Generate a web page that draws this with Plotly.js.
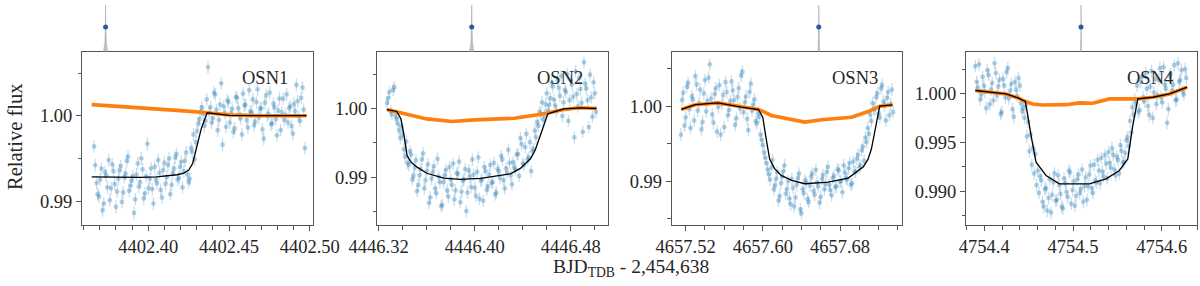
<!DOCTYPE html>
<html>
<head>
<meta charset="utf-8">
<script src="https://cdn.plot.ly/plotly-3.0.1.min.js"></script>
<style>html,body{margin:0;padding:0;background:#fff;}#chart{width:1200px;height:286px;}</style>
</head>
<body>
<div id="chart"></div>
<script>
// ---------------- DATA ----------------
const panelNames = ["OSN1", "OSN2", "OSN3", "OSN4"];
const xTitle = "BJD<sub>TDB</sub> - 2,454,638";
const yTitle = "Relative flux";

// OSN1 observations (two interleaved reads of the cloud)
const obs1X = [4402.3665,4402.3680,4402.3695,4402.3710,4402.3725,4402.3740,4402.3755,4402.3770,4402.3785,4402.3800,4402.3815,4402.3830,4402.3845,4402.3860,4402.3875,4402.3890,4402.3905,4402.3920,4402.3935,4402.3950,4402.3965,4402.3980,4402.3995,4402.4010,4402.4025,4402.4040,4402.4055,4402.4070,4402.4085,4402.4100,4402.4115,4402.4130,4402.4145,4402.4160,4402.4175,4402.4190,4402.4205,4402.4220,4402.4235,4402.4250,4402.4265,4402.4280,4402.4295,4402.4310,4402.4325,4402.4340,4402.4355,4402.4370,4402.4385,4402.4400,4402.4415,4402.4430,4402.4445,4402.4460,4402.4475,4402.4490,4402.4505,4402.4520,4402.4535,4402.4550,4402.4565,4402.4580,4402.4595,4402.4610,4402.4625,4402.4640,4402.4655,4402.4670,4402.4685,4402.4700,4402.4715,4402.4730,4402.4745,4402.4760,4402.4775,4402.4790,4402.4805,4402.4820,4402.4835,4402.4850,4402.4865,4402.4880,4402.4895,4402.4910,4402.4925,4402.4940,4402.4955,4402.4970];
const obs1Y = [0.9964,0.9921,0.9905,0.9938,0.9897,0.9930,0.9948,0.9915,0.9935,0.9893,0.9926,0.9941,0.9910,0.9932,0.9952,0.9918,0.9929,0.9902,0.9944,0.9922,0.9937,0.9909,0.9967,0.9926,0.9914,0.9940,0.9921,0.9933,0.9904,0.9945,0.9928,0.9950,0.9919,0.9938,0.9955,0.9927,0.9946,0.9935,0.9957,0.9922,0.9962,0.9978,0.9969,0.9991,1.0005,1.0002,0.9994,1.0057,1.0010,0.9997,1.0025,0.9983,1.0013,0.9966,1.0003,1.0018,0.9992,1.0008,0.9985,1.0021,1.0001,0.9978,1.0012,0.9995,1.0030,1.0004,0.9989,1.0016,0.9998,1.0009,0.9973,1.0024,1.0002,0.9990,1.0014,0.9996,1.0006,0.9983,1.0020,1.0001,0.9992,1.0011,0.9979,1.0005,1.0017,0.9994,1.0033,0.9962];
const obs1bX = [4402.3672,4402.3687,4402.3702,4402.3717,4402.3732,4402.3747,4402.3762,4402.3777,4402.3792,4402.3807,4402.3822,4402.3837,4402.3852,4402.3867,4402.3882,4402.3897,4402.3912,4402.3927,4402.3942,4402.3957,4402.3972,4402.3987,4402.4002,4402.4017,4402.4032,4402.4047,4402.4062,4402.4077,4402.4092,4402.4107,4402.4122,4402.4137,4402.4152,4402.4167,4402.4182,4402.4197,4402.4212,4402.4227,4402.4242,4402.4257,4402.4272,4402.4287,4402.4302,4402.4317,4402.4332,4402.4347,4402.4362,4402.4377,4402.4392,4402.4407,4402.4422,4402.4437,4402.4452,4402.4467,4402.4482,4402.4497,4402.4512,4402.4527,4402.4542,4402.4557,4402.4572,4402.4587,4402.4602,4402.4617,4402.4632,4402.4647,4402.4662,4402.4677,4402.4692,4402.4707,4402.4722,4402.4737,4402.4752,4402.4767,4402.4782,4402.4797,4402.4812,4402.4827,4402.4842,4402.4857,4402.4872,4402.4887,4402.4902,4402.4917,4402.4932,4402.4947,4402.4962];
const obs1bY = [0.9942,0.9908,0.9925,0.9889,0.9934,0.9916,0.9901,0.9943,0.9920,0.9911,0.9936,0.9899,0.9928,0.9947,0.9912,0.9924,0.9886,0.9931,0.9917,0.9950,0.9903,0.9929,0.9915,0.9938,0.9897,0.9925,0.9948,0.9913,0.9936,0.9920,0.9942,0.9908,0.9933,0.9951,0.9925,0.9940,0.9916,0.9947,0.9931,0.9926,0.9958,0.9949,0.9982,0.9996,1.0010,0.9988,1.0019,1.0003,0.9992,1.0027,1.0007,0.9995,1.0038,1.0011,0.9987,1.0016,1.0003,0.9981,1.0022,1.0009,0.9997,1.0026,1.0013,0.9986,1.0005,1.0019,0.9993,1.0031,1.0008,0.9984,1.0015,1.0000,1.0027,0.9991,1.0010,0.9977,1.0020,1.0004,0.9995,1.0025,1.0009,0.9988,1.0014,1.0036,0.9999,1.0021,1.0007];
const model1X = [4402.365,4402.38,4402.395,4402.405,4402.412,4402.418,4402.422,4402.425,4402.4275,4402.430,4402.433,4402.4365,4402.442,4402.45,4402.47,4402.498];
const model1Y = [0.99282,0.99278,0.99278,0.99282,0.99292,0.99308,0.99328,0.99360,0.99440,0.99620,0.99860,1.00035,1.00025,1.00005,1.0000,1.0000];
const gp1X = [4402.365,4402.40,4402.42,4402.4365,4402.45,4402.47,4402.498];
const gp1Y = [1.0013,1.0009,1.0006,1.00035,1.0001,1.0000,1.0000];

// OSN2 observations
const obs2X = [4446.327,4446.329,4446.331,4446.333,4446.335,4446.337,4446.339,4446.341,4446.343,4446.345,4446.347,4446.349,4446.351,4446.353,4446.355,4446.357,4446.359,4446.361,4446.363,4446.365,4446.367,4446.369,4446.371,4446.373,4446.375,4446.377,4446.379,4446.381,4446.383,4446.385,4446.387,4446.389,4446.391,4446.393,4446.395,4446.397,4446.399,4446.401,4446.403,4446.405,4446.407,4446.409,4446.411,4446.413,4446.415,4446.417,4446.419,4446.421,4446.423,4446.425,4446.427,4446.429,4446.431,4446.433,4446.435,4446.437,4446.439,4446.441,4446.443,4446.445,4446.447,4446.449,4446.451,4446.453,4446.455,4446.457,4446.459,4446.461,4446.463,4446.465,4446.467,4446.469,4446.471,4446.473,4446.475,4446.477,4446.479,4446.481,4446.483,4446.485,4446.487,4446.489,4446.491,4446.493,4446.495,4446.497,4446.499,4446.501];
const obs2Y = [1.0008,1.0024,0.9992,1.0031,0.9985,0.9968,0.9974,0.9941,0.9952,0.9918,0.9933,0.9902,0.9925,0.9889,0.9912,0.9935,0.9896,0.9919,0.9871,0.9908,0.9884,0.9927,0.9893,0.9860,0.9903,0.9881,0.9915,0.9889,0.9868,0.9906,0.9923,0.9879,0.9897,0.9851,0.9910,0.9886,0.9904,0.9873,0.9929,0.9895,0.9866,0.9909,0.9887,0.9918,0.9893,0.9875,0.9912,0.9899,0.9926,0.9884,0.9907,0.9921,0.9890,0.9914,0.9933,0.9902,0.9948,0.9918,0.9963,0.9929,0.9909,0.9941,0.9958,0.9975,0.9992,0.9984,1.0006,0.9997,1.0015,1.0032,1.0004,1.0041,1.0018,0.9989,1.0027,1.0050,1.0012,1.0035,0.9958,1.0021,1.0044,1.0008,1.0067,1.0029,0.9973,1.0016,1.0038,0.9995];
const obs2bX = [4446.328,4446.330,4446.332,4446.334,4446.336,4446.338,4446.340,4446.342,4446.344,4446.346,4446.348,4446.350,4446.352,4446.354,4446.356,4446.358,4446.360,4446.362,4446.364,4446.366,4446.368,4446.370,4446.372,4446.374,4446.376,4446.378,4446.380,4446.382,4446.384,4446.386,4446.388,4446.390,4446.392,4446.394,4446.396,4446.398,4446.400,4446.402,4446.404,4446.406,4446.408,4446.410,4446.412,4446.414,4446.416,4446.418,4446.420,4446.422,4446.424,4446.426,4446.428,4446.430,4446.432,4446.434,4446.436,4446.438,4446.440,4446.442,4446.444,4446.446,4446.448,4446.450,4446.452,4446.454,4446.456,4446.458,4446.460,4446.462,4446.464,4446.466,4446.468,4446.470,4446.472,4446.474,4446.476,4446.478,4446.480,4446.482,4446.484,4446.486,4446.488,4446.490,4446.492,4446.494,4446.496,4446.498,4446.500];
const obs2bY = [1.0015,0.9996,1.0027,0.9989,0.9978,0.9957,0.9962,0.9930,0.9921,0.9938,0.9897,0.9914,0.9880,0.9903,0.9926,0.9884,0.9909,0.9863,0.9898,0.9916,0.9877,0.9901,0.9858,0.9893,0.9911,0.9872,0.9897,0.9920,0.9881,0.9905,0.9864,0.9895,0.9912,0.9878,0.9901,0.9926,0.9885,0.9908,0.9869,0.9897,0.9915,0.9882,0.9904,0.9892,0.9921,0.9878,0.9909,0.9931,0.9896,0.9913,0.9940,0.9903,0.9922,0.9911,0.9934,0.9957,0.9920,0.9944,0.9926,0.9951,0.9938,0.9968,0.9980,0.9995,1.0009,0.9990,1.0022,1.0005,1.0038,1.0013,0.9996,1.0030,1.0047,1.0009,1.0024,0.9982,1.0041,1.0017,1.0054,1.0003,1.0028,0.9966,1.0036,1.0012,1.0049,0.9988,1.0022];
const model2X = [4446.3268,4446.3351,4446.3385,4446.341,4446.3436,4446.347,4446.352,4446.360,4446.3742,4446.388,4446.405,4446.420,4446.4297,4446.438,4446.4464,4446.4505,4446.4547,4446.458,4446.4609,4446.4742,4446.488,4446.5014];
const model2Y = [0.99985,0.99957,0.99850,0.99620,0.99319,0.99220,0.99149,0.99060,0.98990,0.98971,0.98985,0.99020,0.99052,0.99130,0.99270,0.99400,0.99609,0.99800,0.99922,0.99994,1.0001,1.0000];
const gp2X = [4446.3268,4446.3436,4446.360,4446.3811,4446.400,4446.433,4446.4553,4446.4742,4446.488,4446.5014];
const gp2Y = [0.99985,0.99922,0.99849,0.99812,0.99835,0.99859,0.99917,0.99985,1.0001,1.0000];

// OSN3 observations
const obs3X = [4657.5150,4657.5175,4657.5200,4657.5225,4657.5250,4657.5275,4657.5300,4657.5325,4657.5350,4657.5375,4657.5400,4657.5425,4657.5450,4657.5475,4657.5500,4657.5525,4657.5550,4657.5575,4657.5600,4657.5625,4657.5650,4657.5675,4657.5700,4657.5725,4657.5750,4657.5775,4657.5800,4657.5825,4657.5850,4657.5875,4657.5900,4657.5925,4657.5950,4657.5975,4657.6000,4657.6025,4657.6050,4657.6075,4657.6100,4657.6125,4657.6150,4657.6175,4657.6200,4657.6225,4657.6250,4657.6275,4657.6300,4657.6325,4657.6350,4657.6375,4657.6400,4657.6425,4657.6450,4657.6475,4657.6500,4657.6525,4657.6550,4657.6575,4657.6600,4657.6625,4657.6650,4657.6675,4657.6700,4657.6725,4657.6750,4657.6775,4657.6800,4657.6825,4657.6850,4657.6875,4657.6900,4657.6925,4657.6950,4657.6975,4657.7000,4657.7025,4657.7050,4657.7075,4657.7100,4657.7125,4657.7150,4657.7175,4657.7200,4657.7225,4657.7250,4657.7275,4657.7300,4657.7325,4657.7350];
const obs3Y = [0.9962,1.0018,0.9985,1.0031,0.9971,1.0009,1.0040,0.9994,1.0022,0.9979,1.0035,1.0007,1.0056,0.9989,1.0016,0.9966,1.0028,1.0003,0.9972,1.0019,0.9995,1.0033,1.0008,0.9984,1.0024,1.0041,0.9992,1.0013,0.9968,1.0030,1.0002,0.9980,0.9991,0.9962,0.9948,0.9931,0.9915,0.9902,0.9928,0.9894,0.9912,0.9880,0.9906,0.9921,0.9889,0.9877,0.9903,0.9866,0.9895,0.9910,0.9857,0.9884,0.9898,0.9872,0.9906,0.9887,0.9915,0.9893,0.9879,0.9908,0.9896,0.9919,0.9888,0.9904,0.9892,0.9916,0.9899,0.9885,0.9911,0.9902,0.9924,0.9897,0.9913,0.9930,0.9918,0.9941,0.9927,0.9952,0.9963,0.9980,0.9996,1.0012,0.9990,1.0024,1.0006,0.9981,1.0019,1.0003,0.9992];
const obs3bX = [4657.5163,4657.5188,4657.5213,4657.5238,4657.5263,4657.5288,4657.5313,4657.5338,4657.5363,4657.5388,4657.5413,4657.5438,4657.5463,4657.5488,4657.5513,4657.5538,4657.5563,4657.5588,4657.5613,4657.5638,4657.5663,4657.5688,4657.5713,4657.5738,4657.5763,4657.5788,4657.5813,4657.5838,4657.5863,4657.5888,4657.5913,4657.5938,4657.5963,4657.5988,4657.6013,4657.6038,4657.6063,4657.6088,4657.6113,4657.6138,4657.6163,4657.6188,4657.6213,4657.6238,4657.6263,4657.6288,4657.6313,4657.6338,4657.6363,4657.6388,4657.6413,4657.6438,4657.6463,4657.6488,4657.6513,4657.6538,4657.6563,4657.6588,4657.6613,4657.6638,4657.6663,4657.6688,4657.6713,4657.6738,4657.6763,4657.6788,4657.6813,4657.6838,4657.6863,4657.6888,4657.6913,4657.6938,4657.6963,4657.6988,4657.7013,4657.7038,4657.7063,4657.7088,4657.7113,4657.7138,4657.7163,4657.7188,4657.7213,4657.7238,4657.7263,4657.7288,4657.7313,4657.7338];
const obs3bY = [1.0008,0.9974,1.0026,0.9996,1.0013,0.9981,1.0029,1.0004,0.9969,1.0017,0.9993,1.0038,1.0010,0.9978,1.0024,0.9999,0.9962,1.0015,1.0032,0.9988,1.0007,1.0021,0.9975,1.0012,0.9997,1.0046,1.0005,0.9983,1.0019,0.9994,1.0009,0.9977,0.9986,0.9955,0.9938,0.9924,0.9909,0.9918,0.9889,0.9903,0.9874,0.9897,0.9913,0.9883,0.9900,0.9869,0.9891,0.9878,0.9904,0.9862,0.9889,0.9901,0.9876,0.9894,0.9910,0.9882,0.9898,0.9871,0.9903,0.9889,0.9912,0.9895,0.9881,0.9907,0.9893,0.9914,0.9900,0.9921,0.9904,0.9917,0.9895,0.9926,0.9912,0.9935,0.9921,0.9946,0.9958,0.9971,0.9989,1.0004,0.9996,1.0017,0.9985,1.0028,1.0001,1.0011,0.9988,1.0022];
const model3X = [4657.5154,4657.53,4657.5535,4657.5777,4657.5956,4657.600,4657.603,4657.607,4657.612,4657.619,4657.630,4657.6435,4657.6677,4657.6885,4657.704,4657.709,4657.7126,4657.717,4657.7212,4657.7344];
const model3Y = [0.99956,1.0002,1.00044,0.99987,0.99956,0.99850,0.99600,0.99297,0.99170,0.99076,0.99010,0.98964,0.98987,0.99040,0.99187,0.99290,0.99431,0.99750,1.0000,1.00017];
const gp3X = [4657.5154,4657.53,4657.5535,4657.5777,4657.5956,4657.6089,4657.626,4657.6435,4657.661,4657.692,4657.7093,4657.7212,4657.7344];
const gp3Y = [0.99956,1.0002,1.00044,0.99987,0.99956,0.99876,0.99831,0.99787,0.99818,0.99853,0.99929,1.0000,1.00017];

// OSN4 observations
const obs4X = [4754.3900,4754.3927,4754.3954,4754.3981,4754.4008,4754.4035,4754.4062,4754.4089,4754.4116,4754.4143,4754.4170,4754.4197,4754.4224,4754.4251,4754.4278,4754.4305,4754.4332,4754.4359,4754.4386,4754.4413,4754.4440,4754.4467,4754.4494,4754.4521,4754.4548,4754.4575,4754.4602,4754.4629,4754.4656,4754.4683,4754.4710,4754.4737,4754.4764,4754.4791,4754.4818,4754.4845,4754.4872,4754.4899,4754.4926,4754.4953,4754.4980,4754.5007,4754.5034,4754.5061,4754.5088,4754.5115,4754.5142,4754.5169,4754.5196,4754.5223,4754.5250,4754.5277,4754.5304,4754.5331,4754.5358,4754.5385,4754.5412,4754.5439,4754.5466,4754.5493,4754.5520,4754.5547,4754.5574,4754.5601,4754.5628,4754.5655,4754.5682,4754.5709,4754.5736,4754.5763,4754.5790,4754.5817,4754.5844,4754.5871,4754.5898,4754.5925,4754.5952,4754.5979,4754.6006,4754.6033,4754.6060,4754.6087,4754.6114,4754.6141,4754.6168,4754.6195,4754.6222,4754.6249,4754.6276];
const obs4Y = [1.0028,1.0006,0.9994,1.0017,1.0002,1.0024,0.9989,1.0011,1.0031,0.9998,1.0014,0.9981,1.0008,1.0022,0.9995,1.0010,0.9976,1.0004,1.0016,0.9990,0.9985,0.9988,0.9971,0.9958,0.9944,0.9938,0.9921,0.9915,0.9889,0.9902,0.9880,0.9912,0.9896,0.9918,0.9891,0.9906,0.9884,0.9913,0.9899,0.9921,0.9887,0.9910,0.9895,0.9917,0.9902,0.9889,0.9914,0.9905,0.9926,0.9898,0.9911,0.9932,0.9908,0.9920,0.9937,0.9913,0.9929,0.9944,0.9922,0.9935,0.9918,0.9941,0.9930,0.9952,0.9946,0.9960,0.9978,0.9990,0.9981,1.0012,0.9996,1.0021,0.9987,1.0007,0.9975,1.0015,0.9998,1.0026,0.9991,1.0009,0.9970,1.0018,1.0003,1.0029,0.9994,1.0012,1.0024,0.9999,1.0016];
const obs4bX = [4754.3914,4754.3941,4754.3968,4754.3995,4754.4022,4754.4049,4754.4076,4754.4103,4754.4130,4754.4157,4754.4184,4754.4211,4754.4238,4754.4265,4754.4292,4754.4319,4754.4346,4754.4373,4754.4400,4754.4427,4754.4454,4754.4481,4754.4508,4754.4535,4754.4562,4754.4589,4754.4616,4754.4643,4754.4670,4754.4697,4754.4724,4754.4751,4754.4778,4754.4805,4754.4832,4754.4859,4754.4886,4754.4913,4754.4940,4754.4967,4754.4994,4754.5021,4754.5048,4754.5075,4754.5102,4754.5129,4754.5156,4754.5183,4754.5210,4754.5237,4754.5264,4754.5291,4754.5318,4754.5345,4754.5372,4754.5399,4754.5426,4754.5453,4754.5480,4754.5507,4754.5534,4754.5561,4754.5588,4754.5615,4754.5642,4754.5669,4754.5696,4754.5723,4754.5750,4754.5777,4754.5804,4754.5831,4754.5858,4754.5885,4754.5912,4754.5939,4754.5966,4754.5993,4754.6020,4754.6047,4754.6074,4754.6101,4754.6128,4754.6155,4754.6182,4754.6209,4754.6236,4754.6263];
const obs4bY = [1.0012,1.0030,0.9999,1.0008,0.9985,1.0019,1.0004,0.9993,1.0021,1.0007,0.9979,1.0015,0.9996,1.0026,1.0003,0.9984,1.0012,0.9997,1.0008,0.9982,0.9975,0.9956,0.9941,0.9927,0.9918,0.9906,0.9898,0.9911,0.9884,0.9903,0.9893,0.9878,0.9909,0.9890,0.9916,0.9897,0.9882,0.9908,0.9894,0.9919,0.9901,0.9885,0.9912,0.9898,0.9922,0.9905,0.9891,0.9917,0.9903,0.9927,0.9909,0.9921,0.9934,0.9915,0.9928,0.9940,0.9924,0.9937,0.9916,0.9932,0.9947,0.9929,0.9939,0.9955,0.9972,0.9986,0.9994,1.0008,0.9983,1.0017,0.9992,1.0005,0.9978,1.0023,1.0001,0.9989,1.0014,0.9996,1.0027,1.0005,0.9984,1.0020,1.0009,0.9993,1.0031,1.0014,1.0002,1.0025];
const model4X = [4754.3899,4754.405,4754.4245,4754.438,4754.4463,4754.4527,4754.4583,4754.4696,4754.4846,4754.5184,4754.5372,4754.5522,4754.5617,4754.5673,4754.573,4754.5899,4754.6086,4754.6286];
const model4Y = [1.00031,1.00018,0.99996,0.99955,0.99918,0.99570,0.99296,0.99160,0.99074,0.99074,0.99125,0.99211,0.99330,0.99672,0.99945,0.99962,0.99996,1.00065];
const gp4X = [4754.3899,4754.405,4754.4245,4754.438,4754.4463,4754.4546,4754.4659,4754.4921,4754.5071,4754.5222,4754.5409,4754.5673,4754.573,4754.5899,4754.6086,4754.6286];
const gp4Y = [1.00031,1.00018,0.99996,0.99955,0.99918,0.99893,0.99883,0.99886,0.99904,0.99900,0.99945,0.99945,0.99945,0.99962,0.99996,1.00065];

const obsErr = [0.00075, 0.0009, 0.00085, 0.00065];

// predicted mid-transit times and their uncertainty (half width, days)
const midT = [4402.3736, 4446.3975, 4657.658, 4754.509];
const midTErr = [0.0013, 0.0019, 0.0008, 0.0006];

// axis settings
const xRanges = [[4402.359, 4402.502], [4446.3186, 4446.511], [4657.5055, 4657.7446], [4754.3794, 4754.640]];
const yRanges = [[0.98719, 1.00747], [0.98309, 1.0082], [0.98413, 1.00724], [0.98652, 1.00426]];
const xTick0 = [4402.40, 4446.32, 4657.52, 4754.4];
const xDtick = [0.05, 0.08, 0.08, 0.1];
const xMinor = [0.01, 0.02, 0.02, 0.02];
const xFmt = [".2f", ".2f", ".2f", ".1f"];
const yDtick = [0.01, 0.01, 0.01, 0.005];
const yMinor = [0.005, 0.005, 0.005, 0.0025];
const yFmt = [".2f", ".2f", ".2f", ".3f"];

// ---------------- PLOT ----------------
const obsX = [obs1X.concat(obs1bX), obs2X.concat(obs2bX), obs3X.concat(obs3bX), obs4X.concat(obs4bX)];
const obsY = [obs1Y.concat(obs1bY), obs2Y.concat(obs2bY), obs3Y.concat(obs3bY), obs4Y.concat(obs4bY)];
const modX = [model1X, model2X, model3X, model4X];
const modY = [model1Y, model2Y, model3Y, model4Y];
const gpX = [gp1X, gp2X, gp3X, gp4X];
const gpY = [gp1Y, gp2Y, gp3Y, gp4Y];

const W = 1200, H = 286;
const boxTop = 52, boxBot = 225, spikeTop = 5;
const xDomPx = [[82, 313], [377, 608], [671.7, 902.3], [966, 1197.3]];
const yDom = [1 - boxBot / H, 1 - boxTop / H];
const spikeDom = [1 - boxTop / H, 1 - spikeTop / H];
const fontFam = "Liberation Serif, Times New Roman, serif";
const txtColor = "#262626";
const lineColor = "#555555";

const traces = [];
const layout = {
  width: W, height: H, autosize: false,
  margin: {l: 0, r: 0, t: 0, b: 0},
  paper_bgcolor: "#fff", plot_bgcolor: "#fff",
  showlegend: false,
  font: {family: fontFam, size: 18.5, color: txtColor},
  annotations: [],
};

for (let i = 0; i < 4; i++) {
  const n = i + 1;
  const xa = n === 1 ? "x" : "x" + n;
  const ya = n === 1 ? "y" : "y" + n;
  const ys = "y" + (n + 4);

  traces.push({
    x: obsX[i], y: obsY[i], xaxis: xa, yaxis: ya, type: "scatter", mode: "markers",
    marker: {size: 4.8, color: "rgba(31,119,180,0.34)"},
    error_y: {type: "constant", value: obsErr[i], color: "rgba(31,119,180,0.24)", thickness: 1.3, width: 0},
    hoverinfo: "skip",
  });
  traces.push({
    x: gpX[i], y: gpY[i], xaxis: xa, yaxis: ya, type: "scatter", mode: "lines",
    line: {color: "#ff7f0e", width: 3.6}, hoverinfo: "skip",
  });
  traces.push({
    x: modX[i], y: modY[i], xaxis: xa, yaxis: ya, type: "scatter", mode: "lines",
    line: {color: "#000000", width: 1.3}, hoverinfo: "skip",
  });

  // timing posterior spike above each panel
  const t = midT[i], w = midTErr[i];
  traces.push({
    x: [t - w, t - w * 0.35, t - w * 0.12, t, t + w * 0.12, t + w * 0.35, t + w],
    y: [0, 0.2, 0.55, 1, 0.55, 0.2, 0],
    xaxis: xa, yaxis: ys, type: "scatter", mode: "lines", fill: "toself",
    fillcolor: "rgba(150,150,150,0.55)", line: {color: "rgba(150,150,150,0.55)", width: 0.8},
    hoverinfo: "skip",
  });
  traces.push({
    x: [t], y: [0.53], xaxis: xa, yaxis: ys, type: "scatter", mode: "markers",
    marker: {size: 5, color: "#1f5f9f"}, hoverinfo: "skip",
  });

  const xdom = [xDomPx[i][0] / W, xDomPx[i][1] / W];
  layout["xaxis" + (n === 1 ? "" : n)] = {
    domain: xdom, anchor: ya, range: xRanges[i],
    tick0: xTick0[i], dtick: xDtick[i], tickformat: xFmt[i],
    ticks: "outside", ticklen: 5, tickwidth: 1, tickcolor: lineColor,
    minor: {dtick: xMinor[i], tick0: xTick0[i], ticks: "outside", ticklen: 4, tickwidth: 1, tickcolor: lineColor, showgrid: false},
    showline: true, linecolor: lineColor, linewidth: 1, mirror: true,
    showgrid: false, zeroline: false,
    tickfont: {family: fontFam, size: 18.5, color: txtColor},
    fixedrange: true,
  };
  layout["yaxis" + (n === 1 ? "" : n)] = {
    domain: yDom, anchor: xa, range: yRanges[i],
    tick0: 1.0, dtick: yDtick[i], tickformat: yFmt[i],
    ticks: "outside", ticklen: 5, tickwidth: 1, tickcolor: lineColor,
    minor: {dtick: yMinor[i], tick0: 1.0, ticks: "outside", ticklen: 3.5, tickwidth: 1, tickcolor: lineColor, showgrid: false},
    showline: true, linecolor: lineColor, linewidth: 1, mirror: true,
    showgrid: false, zeroline: false,
    tickfont: {family: fontFam, size: 18.5, color: txtColor},
    fixedrange: true,
  };
  layout["yaxis" + (n + 4)] = {
    domain: spikeDom, anchor: xa, range: [0, 1],
    visible: false, showgrid: false, zeroline: false, fixedrange: true,
  };
  layout.annotations.push({
    text: panelNames[i], xref: xa + " domain", yref: ya + " domain",
    x: 0.794, y: 0.85, xanchor: "center", yanchor: "middle", showarrow: false,
    font: {family: fontFam, size: 18.5, color: txtColor},
  });
}

layout.annotations.push({
  text: xTitle, xref: "paper", yref: "paper", x: 631 / W, y: 1 - 268 / H,
  xanchor: "center", yanchor: "middle", showarrow: false,
  font: {family: fontFam, size: 19.5, color: txtColor},
});
layout.annotations.push({
  text: yTitle, xref: "paper", yref: "paper", x: 15 / W, y: 1 - 137 / H,
  xanchor: "center", yanchor: "middle", textangle: -90, showarrow: false,
  font: {family: fontFam, size: 20.5, color: txtColor},
});

Plotly.newPlot("chart", traces, layout, {displayModeBar: false, staticPlot: true});
</script>
</body>
</html>
